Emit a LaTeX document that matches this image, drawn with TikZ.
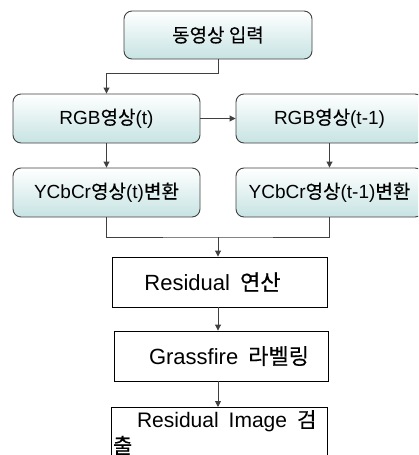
\documentclass[tikz,border=0pt]{standalone}
\usepackage{fontspec}
\setmainfont{Liberation Sans}
\newfontfamily\kr[FakeBold=0.4]{Noto Sans CJK KR}
\newcommand{\hg}[1]{{\kr #1}}
\usetikzlibrary{arrows.meta}

\begin{document}
\begin{tikzpicture}[x=1pt,y=-1pt,line width=0.9pt,
  flow/.style={draw=black!75, rounded corners=8pt, top color=white, bottom color=teal!22,
    minimum width=187pt, minimum height=49pt, inner sep=0pt, font=\fontsize{19}{22}\selectfont},
  work/.style={draw=black, minimum width=215pt, minimum height=50pt, inner sep=0pt,
    font=\fontsize{22}{26}\selectfont},
  link/.style={draw=black!75},
  arr/.style={link, -{Triangle[length=6pt,width=6pt]}}]
   \useasboundingbox (0,0) rectangle (418,455);
   \clip (0,0) rectangle (418,455);

   % input and the two frames
   \node[flow, minimum width=188pt, minimum height=48pt] (start) at (218,35) {\hg{동영상 입력}};
   \node[flow] (rgbt)  at (106.5,118.5) {RGB\hg{영상}(t)};
   \node[flow] (rgbtp) at (329.5,118.5) {RGB\hg{영상}(t-1)};
   \node[flow] (ycct)  at (106.5,192.5) {YCbCr\hg{영상}(t)\hg{변환}};
   \node[flow] (ycctp) at (329.5,192.5) {YCbCr\hg{영상}(t-1)\hg{변환}};

   % processing steps
   \node[work] (resid) at (219.5,282) {Residual\hspace{10pt}\hg{연산}\hspace*{14pt}};
   \node[work, minimum width=214pt] (grass) at (221,356) {\hspace*{16pt}Grassfire\hspace{10pt}\hg{라벨링}};
   \node[work, minimum width=216pt, text width=212pt, inner xsep=2pt, inner ysep=1pt,
         align=left, anchor=north, font=\fontsize{21}{26}\selectfont] (resimg) at (219,407)
        {\hspace*{24pt}Residual\hspace{10pt}Image\hspace{10pt}\hg{검}\\\hg{출}};

   \coordinate (merge) at (218,237);

   \draw[arr] (start.south) -- ++(0,14) -| (rgbt.north);
   \draw[arr] (rgbt.east) -- (rgbtp.west);
   \draw[arr] (rgbt) -- (ycct);
   \draw[arr] (rgbtp) -- (ycctp);
   \draw[link] (ycct.south) |- (merge) -| (ycctp.south);
   \draw[arr] (merge) -- (merge |- resid.north);
   \draw[arr] (merge |- resid.south) -- (merge |- grass.north);
   \draw[arr] (merge |- grass.south) -- (merge |- resimg.north);
\end{tikzpicture}
\end{document}
